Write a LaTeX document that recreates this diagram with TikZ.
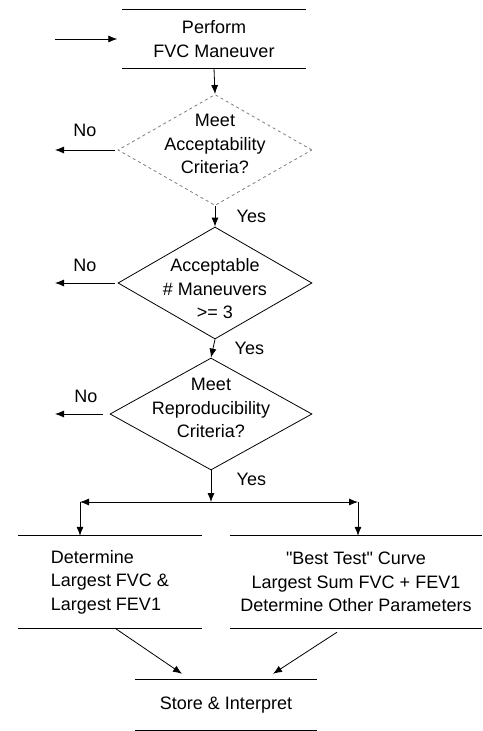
\documentclass[tikz,border=0pt]{standalone}
\usepackage{fontspec}
\setmainfont{Liberation Sans}
\usetikzlibrary{shapes.geometric,arrows.meta}

\tikzset{
  boxline/.style={line width=1.2pt, -},
  opbox/.style={align=center, inner sep=0pt,
    append after command={
      (\tikzlastnode.north west) edge[boxline] (\tikzlastnode.north east)
      (\tikzlastnode.south west) edge[boxline] (\tikzlastnode.south east)}},
  decision/.style={diamond, draw, line width=0.8pt, inner sep=0pt,
    minimum width=194pt, minimum height=111pt},
  dtext/.style={align=center},
  flow/.style={-{Latex[length=9pt,width=7pt]}, line width=0.8pt},
}

\begin{document}
\begin{tikzpicture}[x=1pt, y=-1pt, font=\fontsize{18}{23.5}\selectfont]
	\useasboundingbox (0,0) rectangle (482,731);

	% boxes
	\node[opbox, minimum width=183pt, minimum height=58pt] (perform) at (214,39) {Perform\\FVC Maneuver};
	\node[opbox, align=left, minimum width=184pt, minimum height=92pt] (largest) at (110,582) {Determine\\Largest FVC \&\\Largest FEV1};
	\node[opbox, minimum width=252pt, minimum height=92pt] (besttest) at (356,582) {\textquotedbl Best Test\textquotedbl{} Curve\\Largest Sum FVC + FEV1\\Determine Other Parameters};
	\node[opbox, minimum width=182pt, minimum height=50pt] (store) at (226,705) {Store \& Interpret};

	% decisions
	\node[decision, dashed, draw=gray] (accept) at (215,150)
		{}; \node[dtext] (accepttxt) at ([yshift=6pt]accept.center) {Meet\\Acceptability\\Criteria?};
	\node[decision, minimum height=112pt] (count) at (215,283)
		{}; \node[dtext] (counttxt) at ([yshift=-6pt]count.center) {Acceptable\\\# Maneuvers\\>= 3};
	\node[decision, minimum width=202pt, minimum height=112pt] (repro) at (211,414)
		{}; \node[dtext] (reprotxt) at ([yshift=6pt]repro.center) {Meet\\Reproducibility\\Criteria?};

	\coordinate (entry) at (55,39);
	\coordinate (exit1) at (55,150);
	\coordinate (exit2) at (55,283);
	\coordinate (exit3) at (55,414);
	\coordinate (split) at (211,502);
	\coordinate (splitl) at (80,502);
	\coordinate (splitr) at (358,502);

	\draw[flow] (entry) -- ([xshift=-5pt]perform.west);
	\draw[flow] (perform.south) -- (accept.north);
	\draw[flow] (accept.south) -- (count.north) node[midway, right=18pt] (yes1) {Yes};
	\draw[flow] (count.south) -- (repro.north) node[midway, right=18pt] (yes2) {Yes};
	\draw[flow] (repro.south) -- (split) node[pos=0.3, right=22pt] (yes3) {Yes};

	\draw[flow] ([xshift=-3pt]accept.west) -- (exit1) node[midway, above=10pt] (no1) {No};
	\draw[flow] ([xshift=-3pt]count.west) -- (exit2) node[midway, above=8pt] (no2) {No};
	\draw[flow] ([xshift=-7pt]repro.west) -- (exit3) node[pos=0.35, above=8pt] (no3) {No};

	\draw[flow] (split) -- (splitl);
	\draw[flow] (split) -- (splitr);
	\draw[flow] (splitl) -- (splitl |- largest.north);
	\draw[flow] (splitr) -- (splitr |- besttest.north);

	\draw[flow] ([xshift=5pt]largest.south) -- ([xshift=-44pt,yshift=6pt]store.north);
	\draw[flow] ([xshift=-19pt,yshift=-4pt]besttest.south) -- ([xshift=47pt,yshift=6pt]store.north);

\end{tikzpicture}
\end{document}
